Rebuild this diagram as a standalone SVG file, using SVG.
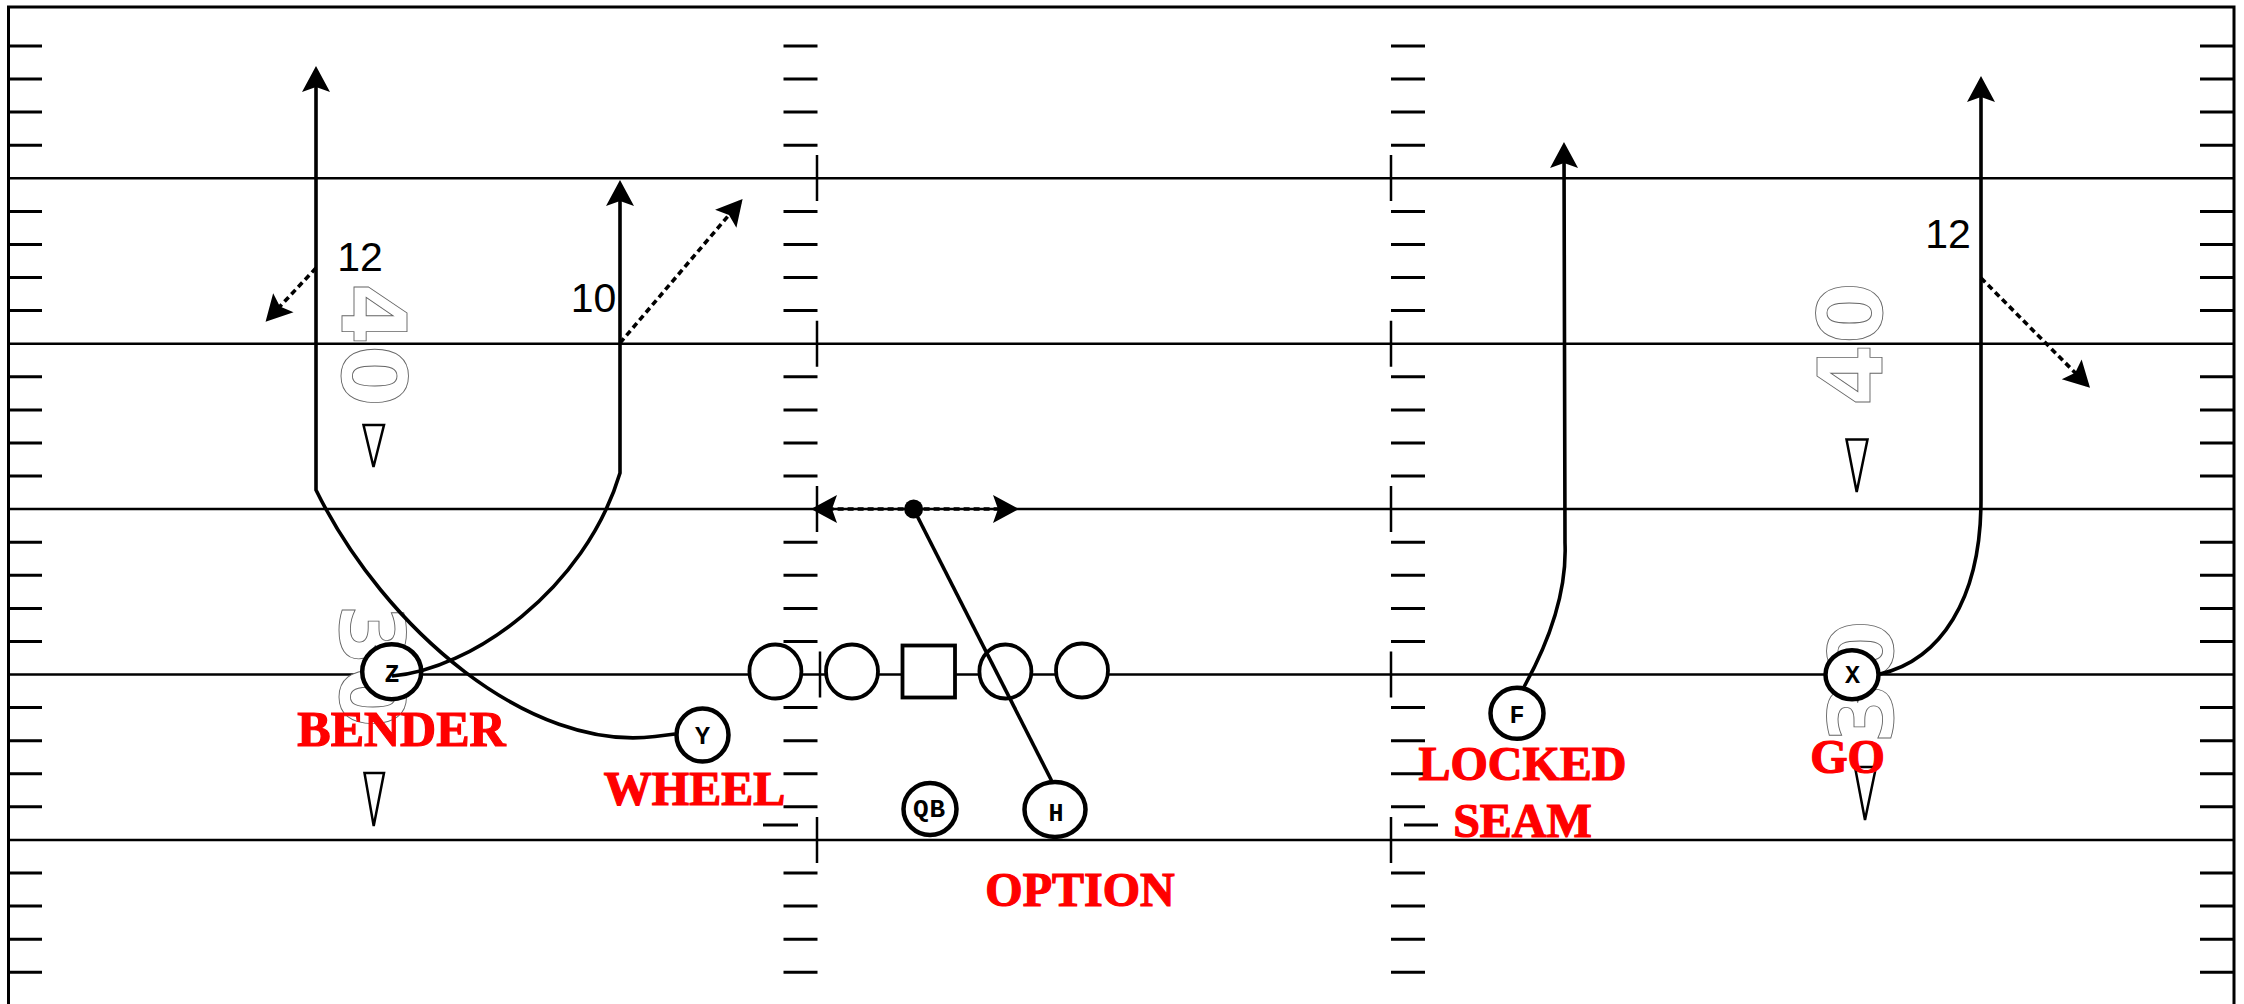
<svg xmlns="http://www.w3.org/2000/svg" xmlns:xlink="http://www.w3.org/1999/xlink" width="2244" height="1004" viewBox="0 0 2244 1004">
<style>
.field{fill:none;stroke:#000;stroke-width:2.5}
.border{fill:none;stroke:#000;stroke-width:3}
.hash{fill:none;stroke:#000;stroke-width:3}
.tick{fill:none;stroke:#000;stroke-width:2.5}
.num{font-family:"DejaVu Sans",sans-serif;font-weight:bold;font-size:89px;fill:#fff;stroke:#666;stroke-width:0.9;text-anchor:middle}
.tri{fill:#fff;stroke:#000;stroke-width:2.5;stroke-linejoin:miter}
.ol{fill:#fff;stroke:#000;stroke-width:3.8}
.pl{fill:#fff;stroke:#000;stroke-width:4.5}
.pt{font-family:"Liberation Mono","DejaVu Sans Mono",monospace;font-weight:bold;font-size:25px;fill:#000;text-anchor:middle}
.route{fill:none;stroke:#000;stroke-width:3.6}
.dot{fill:none;stroke:#000;stroke-width:3.6;stroke-dasharray:6 4}
.lbl{font-family:"Liberation Serif","Times New Roman",serif;font-weight:bold;font-size:48px;fill:#ff0000;stroke:#ff0000;stroke-width:1.2;text-anchor:middle}
.yd{font-family:"Liberation Sans",Arial,sans-serif;font-size:41px;fill:#000;text-anchor:middle}
</style>
<defs>
<marker id="ah" markerUnits="userSpaceOnUse" markerWidth="26" markerHeight="28" refX="22" refY="14" orient="auto" overflow="visible">
<path d="M0,0L26,14L0,28L5,14Z" fill="#000"/>
</marker>
<path id="hc" class="hash" d="M0,46H34M0,79.1H34M0,112.1H34M0,145.2H34M0,211.4H34M0,244.5H34M0,277.5H34M0,310.6H34M0,376.8H34M0,409.9H34M0,443H34M0,476.1H34M0,542.2H34M0,575.3H34M0,608.4H34M0,641.4H34M0,707.6H34M0,740.7H34M0,773.8H34M0,806.8H34M0,873H34M0,906.1H34M0,939.2H34M0,972.2H34"/>
</defs>
<rect width="2244" height="1004" fill="#fff"/>
<g id="field">
<path class="border" d="M8.5,1004V7H2234V1004"/>
<path class="field" d="M8.5,178.3H2234M8.5,343.7H2234M8.5,509.1H2234M8.5,674.5H2234M8.5,839.9H2234"/>
<use xlink:href="#hc" href="#hc" x="8"/>
<use xlink:href="#hc" href="#hc" x="783.5"/>
<use xlink:href="#hc" href="#hc" x="1391"/>
<use xlink:href="#hc" href="#hc" x="2200"/>
<path class="hash" d="M763,825H798M1404,825H1438"/>
<path class="tick" d="M817,155V201M817,320.7V366.7M817,486V532M820,651.5V697.5M817,817V863M1391,155V201M1391,320.7V366.7M1391,486V532M1391,651.5V697.5M1391,817V863"/>
</g>
<g id="numbers">
<text class="num" transform="translate(342,345) rotate(90)">40</text>
<text class="num" transform="translate(340,666) rotate(90)">30</text>
<text class="num" transform="translate(1882,344) rotate(-90)">40</text>
<text class="num" transform="translate(1893,682) rotate(-90)">30</text>
<path class="tri" d="M363.5,425L384,425L373.5,467Z"/>
<path class="tri" d="M364.5,773L384,773L373.7,826Z"/>
<path class="tri" d="M1846.5,439.5L1867.5,439.5L1856.7,492Z"/>
<path class="tri" d="M1855,767L1876,767L1865,820Z"/>
</g>
<g id="nodes">
<g id="lt"><ellipse class="ol" cx="775.4" cy="671.5" rx="26" ry="27"/></g>
<g id="lg"><ellipse class="ol" cx="852" cy="671.5" rx="26" ry="27"/></g>
<g id="c"><rect class="ol" x="902.5" y="645.5" width="52.5" height="52"/></g>
<g id="rg"><ellipse class="ol" cx="1005.4" cy="671.5" rx="26" ry="27"/></g>
<g id="rt"><ellipse class="ol" cx="1082" cy="670.5" rx="26" ry="27"/></g>
<g id="z"><ellipse class="pl" cx="391.7" cy="671.7" rx="29.5" ry="27.5"/><text class="pt" x="392" y="681.7">Z</text></g>
<g id="y"><ellipse class="pl" cx="702.5" cy="735" rx="26" ry="26.5"/><text class="pt" x="702.5" y="744.3">Y</text></g>
<g id="qb"><ellipse class="pl" cx="930" cy="809" rx="26.5" ry="26"/><text class="pt" x="929.5" y="817" style="font-size:26px;letter-spacing:1px">QB</text></g>
<g id="h"><ellipse class="pl" cx="1055" cy="809.5" rx="30.5" ry="27.5"/><text class="pt" x="1056" y="820.7">H</text></g>
<g id="f"><ellipse class="pl" cx="1517" cy="713.3" rx="26.5" ry="25.5"/><text class="pt" x="1517" y="722.5">F</text></g>
<g id="x"><ellipse class="pl" cx="1852" cy="674.7" rx="26.5" ry="24.5"/><text class="pt" x="1852.5" y="683">X</text></g>
</g>
<g id="connectors">
<path class="route" d="M392,676C470,670 585,590 620,473V184" marker-end="url(#ah)"/>
<path class="dot" d="M620,343L740,202" marker-end="url(#ah)"/>
<path class="route" d="M675,734L655,736.5C530,752 385,630 316,490V70" marker-end="url(#ah)"/>
<path class="dot" d="M316,268L268.3,318.8" marker-end="url(#ah)"/>
<path class="route" d="M913.6,509L1051.5,780.5"/>
<circle cx="913.6" cy="509" r="9.5" fill="#000"/>
<path class="dot" d="M913.6,509H815" marker-end="url(#ah)"/>
<path class="dot" d="M913.6,509H1015" marker-end="url(#ah)"/>
<path class="route" d="M1524,687C1550,640 1567,590 1565,543L1564,146" marker-end="url(#ah)"/>
<path class="route" d="M1880,674C1940,660 1981,600 1981,500V80" marker-end="url(#ah)"/>
<path class="dot" d="M1981,278L2087.2,384.9" marker-end="url(#ah)"/>
</g>
<g id="labels">
<text class="yd" x="360" y="271">12</text>
<text class="yd" x="593.5" y="312">10</text>
<text class="yd" x="1948" y="248">12</text>
<text class="lbl" x="401.5" y="746" style="font-size:50px">BENDER</text>
<text class="lbl" x="694.5" y="805">WHEEL</text>
<text class="lbl" x="1080" y="906">OPTION</text>
<text class="lbl" x="1522.5" y="779.5">LOCKED</text>
<text class="lbl" x="1522.5" y="837">SEAM</text>
<text class="lbl" x="1847.5" y="773">GO</text>
</g>
</svg>
